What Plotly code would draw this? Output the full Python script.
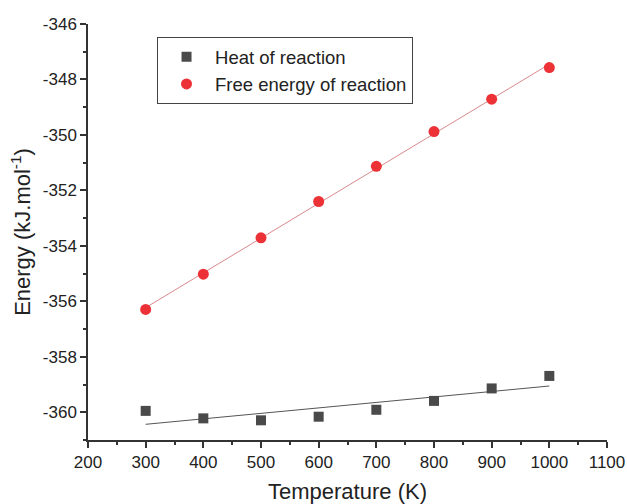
import numpy as np
import plotly.graph_objects as go

temperature = [300, 400, 500, 600, 700, 800, 900, 1000]
heat_of_reaction = [-359.95, -360.22, -360.29, -360.16, -359.91, -359.59, -359.14, -358.69]
free_energy = [-356.29, -355.02, -353.71, -352.40, -351.13, -349.88, -348.71, -347.57]

x_ticks = [200, 300, 400, 500, 600, 700, 800, 900, 1000, 1100]
y_ticks = [-346, -348, -350, -352, -354, -356, -358, -360]
y_ticktext = ["-346", "-348", "-350", "-352", "-354", "-356", "-358", "-360"]

FONT = "Liberation Sans, Arial, sans-serif"

t = np.array(temperature, dtype=float)
h_fit = np.polyval(np.polyfit(t, heat_of_reaction, 1), t)
g_fit = np.polyval(np.polyfit(t, free_energy, 1), t)

fig = go.Figure()
fig.add_trace(go.Scatter(x=temperature, y=h_fit, mode="lines",
                         line=dict(color="#555555", width=1), showlegend=False, hoverinfo="skip"))
fig.add_trace(go.Scatter(x=temperature, y=g_fit, mode="lines",
                         line=dict(color="#d9898c", width=1), showlegend=False, hoverinfo="skip"))
fig.add_trace(go.Scatter(x=temperature, y=heat_of_reaction, mode="markers",
                         name="Heat of reaction",
                         marker=dict(symbol="square", size=10, color="#4a4a4a")))
fig.add_trace(go.Scatter(x=temperature, y=free_energy, mode="markers",
                         name="Free energy of reaction",
                         marker=dict(symbol="circle", size=11, color="#ec3237")))

axis_common = dict(
    showline=True, linecolor="#333333", linewidth=1.5, mirror=False,
    showgrid=False, zeroline=False, automargin=False,
    ticks="outside", ticklen=6, tickwidth=1.5, tickcolor="#333333",
    tickfont=dict(family=FONT, size=17, color="#222222"),
)

fig.update_layout(
    width=627, height=504,
    margin=dict(l=88, r=20, t=24, b=64),
    paper_bgcolor="white", plot_bgcolor="white",
    font=dict(family=FONT, color="#222222"),
    xaxis=dict(range=[200, 1100], tickvals=x_ticks,
               minor=dict(ticks="outside", ticklen=3, tickwidth=1.5, tickcolor="#333333", dtick=50, tick0=200),
               title=dict(text="Temperature (K)", font=dict(family=FONT, size=22), standoff=12),
               **axis_common),
    yaxis=dict(range=[-361, -346], tickvals=y_ticks, ticktext=y_ticktext,
               minor=dict(ticks="outside", ticklen=3, tickwidth=1.5, tickcolor="#333333", dtick=1, tick0=-346),
               title=dict(text="Energy (kJ.mol<sup>-1</sup>)", font=dict(family=FONT, size=22), standoff=6),
               **axis_common),
    legend=dict(x=0.133, y=0.968, xanchor="left", yanchor="top",
                bordercolor="#444444", borderwidth=1, bgcolor="white",
                font=dict(family=FONT, size=18.5, color="#222222"),
                itemwidth=47, tracegroupgap=0),
    showlegend=True,
)

fig.write_html("out.html")
